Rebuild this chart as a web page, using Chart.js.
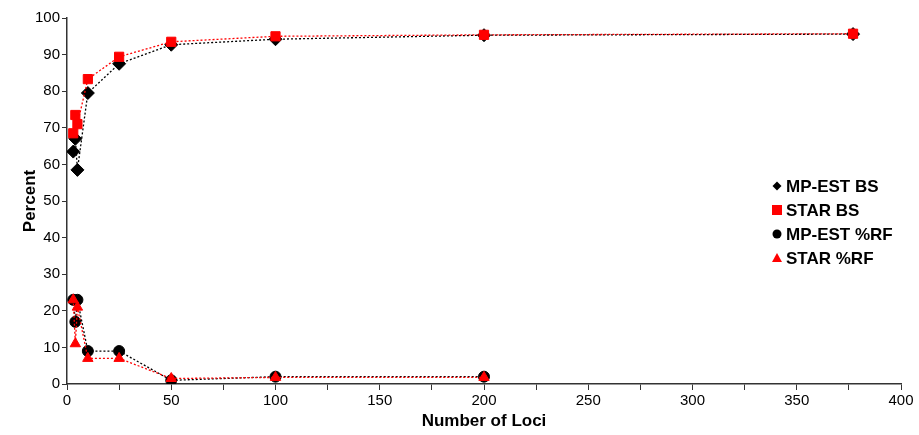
<!DOCTYPE html>
<html lang="en">
<head>
    <meta charset="UTF-8">
    <title>Percent vs Number of Loci</title>
    <script src="https://cdn.jsdelivr.net/npm/chart.js"></script>
    <style>
        body { margin: 0; background: #fff; }
    </style>
</head>
<body>
    <canvas id="lociChart" width="919" height="435"></canvas>

    <script>
        // values
        const lociBS = [3, 4, 5, 10, 25, 50, 100, 200, 377];
        const lociRF = [3, 4, 5, 10, 25, 50, 100, 200];
        const mpestBS = [63.5, 67, 58.5, 79.5, 87.5, 92.7, 94.2, 95.3, 95.6];
        const starBS = [68.5, 73.5, 71, 83.3, 89.4, 93.5, 95, 95.4, 95.7];
        const mpestRF = [23, 17, 23, 9, 9, 1, 2, 2];
        const starRF = [23, 11, 21, 7, 7, 1.5, 1.8, 1.8];
        const seriesNames = ['MP-EST BS', 'STAR BS', 'MP-EST %RF', 'STAR %RF'];

        const toPoints = (xs, ys) => ys.map((y, i) => ({ x: xs[i], y: y }));

        const FONT = '"Liberation Sans", Arial, sans-serif';

        // legend drawn inside the plot, right side
        const innerLegend = {
            id: 'innerLegend',
            afterDraw(chart) {
                const ctx = chart.ctx;
                const area = chart.chartArea;
                const x0 = area.right - 124;
                const y0 = area.top + 168;
                ctx.save();
                ctx.font = 'bold 17px ' + FONT;
                ctx.textBaseline = 'middle';
                chart.data.datasets.forEach((ds, i) => {
                    const y = y0 + i * 24;
                    ctx.fillStyle = ds.pointBackgroundColor;
                    ctx.beginPath();
                    if (ds.pointStyle === 'rectRot') {
                        ctx.moveTo(x0, y - 4.5); ctx.lineTo(x0 + 4.5, y);
                        ctx.lineTo(x0, y + 4.5); ctx.lineTo(x0 - 4.5, y);
                    } else if (ds.pointStyle === 'rect') {
                        ctx.rect(x0 - 5, y - 5, 10, 10);
                    } else if (ds.pointStyle === 'circle') {
                        ctx.arc(x0, y, 4.5, 0, Math.PI * 2);
                    } else {
                        ctx.moveTo(x0, y - 5); ctx.lineTo(x0 + 5, y + 4);
                        ctx.lineTo(x0 - 5, y + 4);
                    }
                    ctx.closePath();
                    ctx.fill();
                    ctx.fillStyle = '#000';
                    ctx.fillText(ds.label, x0 + 9, y + 1);
                });
                ctx.restore();
            }
        };

        const ctx = document.getElementById('lociChart').getContext('2d');
        const lociChart = new Chart(ctx, {
            type: 'line',
            data: {
                datasets: [
                    {
                        label: seriesNames[0],
                        data: toPoints(lociBS, mpestBS),
                        borderColor: '#000',
                        pointBackgroundColor: '#000',
                        pointBorderColor: '#000',
                        pointStyle: 'rectRot',
                        pointRadius: 6.5,
                        order: 2
                    },
                    {
                        label: seriesNames[1],
                        data: toPoints(lociBS, starBS),
                        borderColor: '#ff0000',
                        pointBackgroundColor: '#ff0000',
                        pointBorderColor: '#ff0000',
                        pointStyle: 'rect',
                        pointRadius: 6.5,
                        order: 1
                    },
                    {
                        label: seriesNames[2],
                        data: toPoints(lociRF, mpestRF),
                        borderColor: '#000',
                        pointBackgroundColor: '#000',
                        pointBorderColor: '#000',
                        pointStyle: 'circle',
                        pointRadius: 5.5,
                        order: 2
                    },
                    {
                        label: seriesNames[3],
                        data: toPoints(lociRF, starRF),
                        borderColor: '#ff0000',
                        pointBackgroundColor: '#ff0000',
                        pointBorderColor: '#ff0000',
                        pointStyle: 'triangle',
                        pointRadius: 6,
                        order: 1
                    }
                ]
            },
            options: {
                responsive: false,
                animation: false,
                datasets: {
                    line: {
                        borderWidth: 1.3,
                        borderDash: [2, 2],
                        pointBorderWidth: 1,
                        tension: 0
                    }
                },
                layout: { padding: { top: 18, right: 18, left: 0, bottom: 0 } },
                plugins: {
                    legend: { display: false },
                    tooltip: { enabled: false }
                },
                scales: {
                    x: {
                        type: 'linear',
                        min: 0,
                        max: 400,
                        afterFit: s => { s.height = 51; },
                        border: { display: true, color: '#333', width: 1.5 },
                        grid: { drawOnChartArea: false, drawTicks: true, tickLength: 6, color: '#333' },
                        ticks: {
                            stepSize: 25,
                            autoSkip: false,
                            maxRotation: 0,
                            padding: 2,
                            color: '#000',
                            font: { family: FONT, size: 15 },
                            callback: v => (v % 50 === 0 ? v : '')
                        },
                        title: {
                            display: true,
                            text: 'Number of Loci',
                            color: '#000',
                            padding: { top: 0, bottom: 3 },
                            font: { family: FONT, size: 17, weight: 'bold' }
                        }
                    },
                    y: {
                        min: 0,
                        max: 100,
                        afterFit: s => { s.width = 67; },
                        border: { display: true, color: '#333', width: 1.5 },
                        grid: { drawOnChartArea: false, drawTicks: true, tickLength: 5, color: '#333' },
                        ticks: {
                            stepSize: 10,
                            padding: 2,
                            color: '#000',
                            font: { family: FONT, size: 15 }
                        },
                        title: {
                            display: true,
                            text: 'Percent',
                            color: '#000',
                            padding: { top: 20, bottom: 0 },
                            font: { family: FONT, size: 17, weight: 'bold' }
                        }
                    }
                }
            },
            plugins: [innerLegend]
        });
    </script>
</body>
</html>
